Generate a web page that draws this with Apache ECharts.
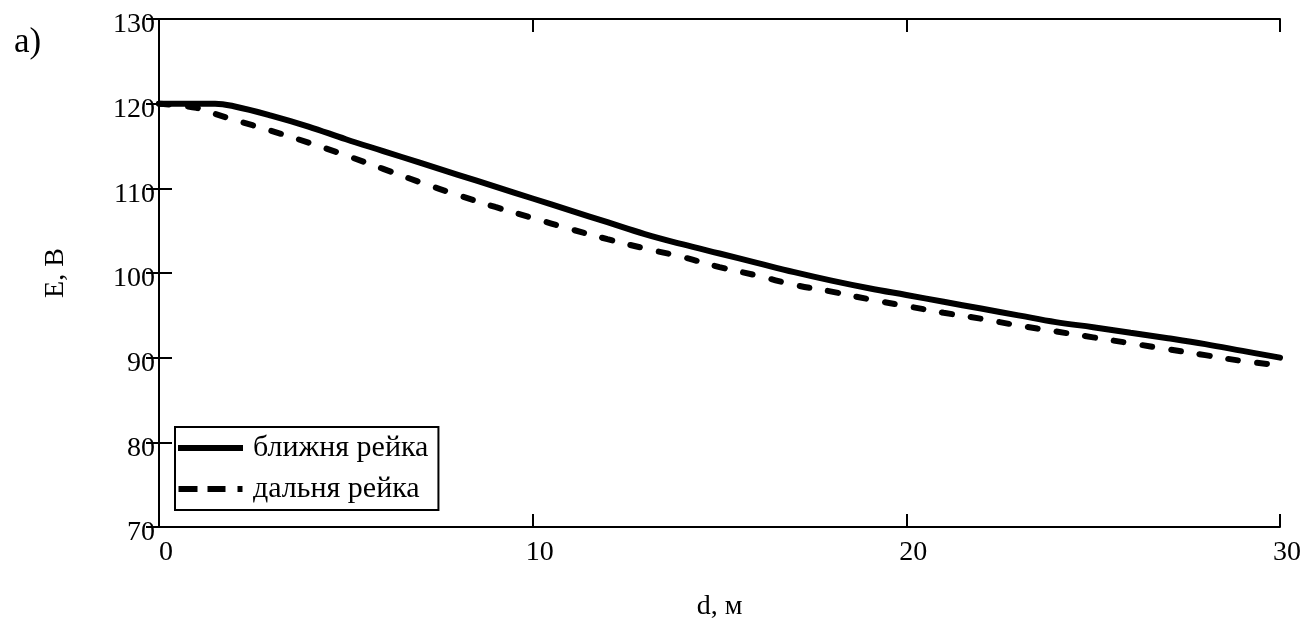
<!DOCTYPE html>
<html>
<head>
<meta charset="utf-8">
<script src="https://cdn.jsdelivr.net/npm/echarts@6/dist/echarts.min.js"></script>
<style>html,body{margin:0;padding:0;background:#fff}#c{width:1304px;height:626px}</style>
</head>
<body>
<div id="c"></div>
<script>
const distances = [0,1,1.5,2,3,4,5,6,7,8,9,10,11,12,13,14,15,16,17,18,19,20,21,22,23,24,25,26,27,28,29,30];
const nearRail = [120.0,120.0,120.0,119.7,118.6,117.3,115.8,114.4,113.0,111.6,110.2,108.8,107.4,106.0,104.6,103.4,102.3,101.2,100.1,99.1,98.2,97.4,96.6,95.8,95.0,94.2,93.6,92.95,92.3,91.6,90.8,90.0];
const farRail = [120.0,119.5,118.8,118.1,116.8,115.4,113.9,112.3,110.7,109.2,107.8,106.5,105.2,104.0,102.9,101.9,100.7,99.7,98.6,97.8,96.9,96.1,95.3,94.6,93.8,93.1,92.4,91.7,91.0,90.3,89.6,89.1];
const seriesNames = ['ближня рейка', 'дальня рейка'];
const xTicks = [0, 10, 20, 30];
const yTicks = [70, 80, 90, 100, 110, 120, 130];

const font = 'Liberation Serif';
const chart = echarts.init(document.getElementById('c'), null, {renderer: 'canvas'});
const pairs = (ys) => distances.map((d, i) => [d, ys[i]]);
const axisLine = {show: true, lineStyle: {color: '#000', width: 2}};
const tick = {show: true, inside: true, length: 13, lineStyle: {color: '#000', width: 2}};
const solidIcon = 'path://M0,0H65V6H0Z';
const dashIcon = 'path://M0,0H19V6H0Z M29,0H47V6H29Z M59,0H64V6H59Z';
chart.setOption({
  animation: false,
  backgroundColor: '#fff',
  title: {text: 'a)', left: 9, top: 20, textStyle: {fontFamily: font, fontSize: 35, fontWeight: 'normal', color: '#000'}},
  grid: {left: 159, right: 24, top: 19, bottom: 99, containLabel: false, outerBoundsMode: 'none'},
  legend: {
    orient: 'vertical', left: 175, top: 427,
    padding: [6, 10, 6, 3], itemGap: 11,
    itemWidth: 65, itemHeight: 6,
    borderColor: '#000', borderWidth: 2, borderRadius: 0,
    textStyle: {fontFamily: font, fontSize: 30, lineHeight: 29, color: '#000', padding: [0, 0, 0, 5]},
    data: [{name: seriesNames[0], icon: solidIcon}, {name: seriesNames[1], icon: dashIcon}]
  },
  xAxis: [{
    type: 'value', min: xTicks[0], max: xTicks[xTicks.length - 1], interval: 10,
    position: 'bottom',
    name: 'd, м', nameLocation: 'middle', nameGap: 66,
    nameTextStyle: {fontFamily: font, fontSize: 28, color: '#000'},
    axisLine, axisTick: tick, splitLine: {show: false},
    axisLabel: {fontFamily: font, fontSize: 28, color: '#000', margin: 12, padding: [0, 0, 0, 14]}
  }, {
    type: 'value', min: xTicks[0], max: xTicks[xTicks.length - 1], interval: 10,
    position: 'top', axisLine, axisTick: tick, splitLine: {show: false}, axisLabel: {show: false}
  }],
  yAxis: [{
    type: 'value', min: yTicks[0], max: yTicks[yTicks.length - 1], interval: 10,
    position: 'left',
    name: 'E, B', nameLocation: 'middle', nameGap: 89, nameRotate: 90,
    nameTextStyle: {fontFamily: font, fontSize: 28, color: '#000'},
    axisLine, axisTick: tick, splitLine: {show: false},
    axisLabel: {fontFamily: font, fontSize: 28, color: '#000', margin: 4, verticalAlign: 'top', lineHeight: 12}
  }, {
    type: 'value', min: yTicks[0], max: yTicks[yTicks.length - 1], interval: 10,
    position: 'right', axisLine, axisTick: tick, splitLine: {show: false}, axisLabel: {show: false}
  }],
  series: [{
    name: seriesNames[0], type: 'line', data: pairs(nearRail),
    showSymbol: false, symbol: 'none', smooth: 0.4,
    lineStyle: {color: '#000', width: 6, cap: 'round'}, itemStyle: {color: '#000'}
  }, {
    name: seriesNames[1], type: 'line', data: pairs(farRail),
    showSymbol: false, symbol: 'none', smooth: 0.4,
    lineStyle: {color: '#000', width: 6, type: [10, 19], cap: 'round'}, itemStyle: {color: '#000'}
  }]
});
</script>
</body>
</html>
